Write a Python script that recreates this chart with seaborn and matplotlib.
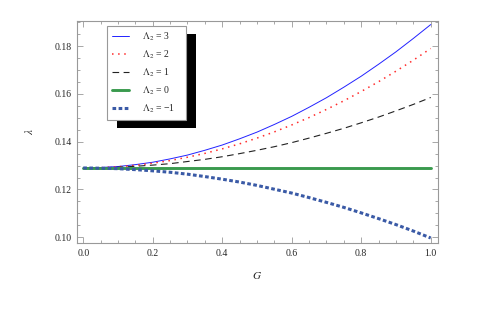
import numpy as np
import pandas as pd
import seaborn as sns
import matplotlib
matplotlib.use("Agg")
import matplotlib.pyplot as plt
from matplotlib.patches import Rectangle
from matplotlib.transforms import IdentityTransform
from matplotlib.ticker import MultipleLocator

# ---- data ----
G = [0.00, 0.05, 0.10, 0.15, 0.20, 0.25, 0.30, 0.35, 0.40, 0.45, 0.50,
     0.55, 0.60, 0.65, 0.70, 0.75, 0.80, 0.85, 0.90, 0.95, 1.00]
lam_p3 = [0.1290, 0.1292, 0.1296, 0.1304, 0.1314, 0.1328, 0.1344, 0.1364, 0.1386, 0.1412, 0.1440,
          0.1472, 0.1506, 0.1544, 0.1584, 0.1628, 0.1674, 0.1724, 0.1776, 0.1832, 0.1890]
lam_p2 = [0.1290, 0.1291, 0.1295, 0.1301, 0.1310, 0.1321, 0.1335, 0.1351, 0.1370, 0.1391, 0.1415,
          0.1441, 0.1470, 0.1501, 0.1535, 0.1571, 0.1610, 0.1651, 0.1695, 0.1741, 0.1790]
lam_p1 = [0.1290, 0.1291, 0.1293, 0.1297, 0.1302, 0.1308, 0.1317, 0.1326, 0.1337, 0.1350, 0.1364,
          0.1379, 0.1396, 0.1415, 0.1435, 0.1456, 0.1479, 0.1503, 0.1529, 0.1556, 0.1585]
lam_0 = [0.1290] * 21
lam_m1 = [0.1290, 0.1289, 0.1287, 0.1283, 0.1278, 0.1272, 0.1264, 0.1254, 0.1243, 0.1231, 0.1217,
          0.1201, 0.1185, 0.1166, 0.1146, 0.1125, 0.1102, 0.1078, 0.1053, 0.1026, 0.0997]
labels = [r'$\Lambda_2$ = 3', r'$\Lambda_2$ = 2', r'$\Lambda_2$ = 1',
          r'$\Lambda_2$ = 0', r'$\Lambda_2$ = −1']
series = [lam_p3, lam_p2, lam_p1, lam_0, lam_m1]
xticks = [0.0, 0.2, 0.4, 0.6, 0.8, 1.0]
yticks = [0.10, 0.12, 0.14, 0.16, 0.18]

sns.set_theme(style="white")
plt.rcParams['font.family'] = ['Liberation Serif', 'DejaVu Serif']
plt.rcParams['mathtext.fontset'] = 'stix'

styles = [
    dict(color='#2222ff', lw=0.7, ls='-'),
    dict(color='#ff2a2a', lw=1.1, ls=(0, (1, 3))),
    dict(color='#222222', lw=0.8, ls=(0, (6, 4))),
    dict(color='#3a9a4e', lw=2.1, ls='-'),
    dict(color='#3a5aa6', lw=2.2, ls=(0, (1.2, 0.8))),
]

fig = plt.figure(figsize=(4.88, 3.18), dpi=100)
ax = fig.add_axes([77/488, 1-243/318, (438-77)/488, (243-21)/318])

for vals, lab, st in zip(series, labels, styles):
    df = pd.DataFrame({'G': G, 'lam': vals})
    sns.lineplot(data=df, x='G', y='lam', ax=ax, label=lab, **st)

ax.set_xlim(-0.018, 1.021)
ax.set_ylim(0.0976, 0.1905)
ax.set_xticks(xticks)
ax.set_xticklabels([f'{t:.1f}' for t in xticks])
ax.set_yticks(yticks)
ax.set_yticklabels([f'{t:.2f}' for t in yticks])
ax.xaxis.set_minor_locator(MultipleLocator(0.05))
ax.yaxis.set_minor_locator(MultipleLocator(0.005))
ax.tick_params(which='both', direction='in', top=True, right=True, bottom=True, left=True,
               color='#999999', labelsize=7, pad=4, width=0.6)
ax.tick_params(which='major', length=4.5)
ax.tick_params(which='minor', length=2.5)
for sp in ax.spines.values():
    sp.set_color('#999999')
    sp.set_linewidth(0.8)

ax.set_xlabel('$G$', fontsize=8, labelpad=9)
ax.set_ylabel(r'$\lambda$', fontsize=8, labelpad=14)

leg = ax.legend(loc='upper left', bbox_to_anchor=((107-77)/361, 1-(26-21)/222),
                frameon=False, fontsize=7, handlelength=1.75,
                handletextpad=1.35, labelspacing=0.55, borderpad=0.5,
                borderaxespad=0)
leg.set_zorder(10)

fig.canvas.draw()
bb = leg.get_window_extent()
extra = 187 - bb.x1 - 1
if extra < 0:
    extra = 0
w = bb.width + extra
shadow = Rectangle((bb.x0 + 10, bb.y0 - 8), w, bb.height,
                   transform=IdentityTransform(), facecolor='black',
                   edgecolor='none', zorder=9, clip_on=False)
box = Rectangle((bb.x0, bb.y0), w, bb.height,
                transform=IdentityTransform(), facecolor='white',
                edgecolor='#999999', linewidth=0.8, zorder=9.5, clip_on=False)
ax.add_artist(shadow)
ax.add_artist(box)

fig.savefig('out.png', dpi=100)
